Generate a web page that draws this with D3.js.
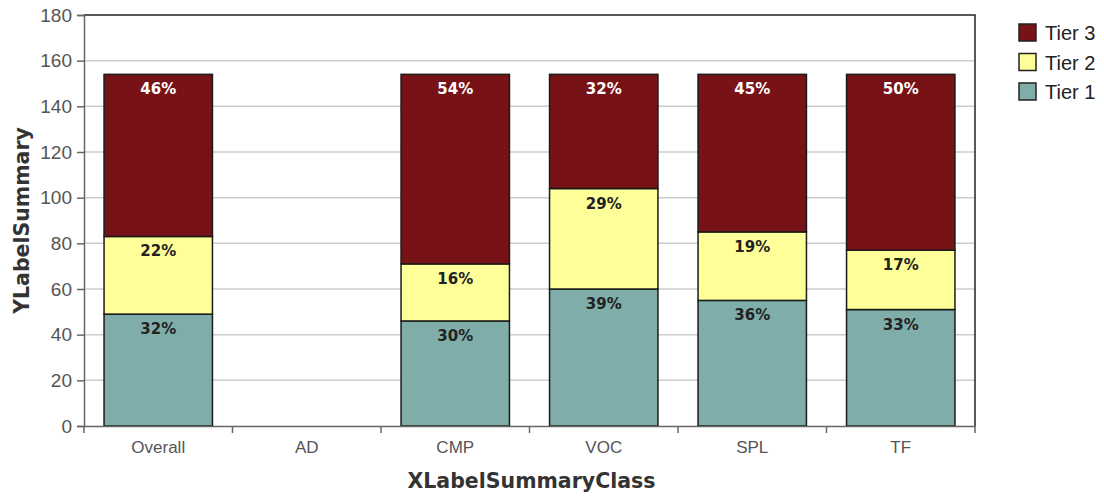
<!DOCTYPE html>
<html>
<head>
<meta charset="utf-8">
<script src="https://cdn.jsdelivr.net/npm/d3@7"></script>
<style>
    body { margin: 0; background: #fff; }
    svg { font-family: "DejaVu Sans", Verdana, sans-serif; }
</style>
</head>
<body>
<div id="chart"></div>
<script>
// chart data
const categories = ["Overall", "AD", "CMP", "VOC", "SPL", "TF"];
const tier1 = [49, 0, 46, 60, 55, 51];
const tier2 = [34, 0, 25, 44, 30, 26];
const tier3 = [71, 0, 83, 50, 69, 77];
const seriesNames = ["Tier 1", "Tier 2", "Tier 3"];
const yTicks = [0, 20, 40, 60, 80, 100, 120, 140, 160, 180];

const colors = { "Tier 1": "#7fada9", "Tier 2": "#ffff99", "Tier 3": "#771316" };
const labelColors = { "Tier 1": "#222222", "Tier 2": "#222222", "Tier 3": "#ffffff" };

const size = { width: 1104, height: 496, left: 84, right: 975, top: 15, bottom: 426 };
const tickFont = "Liberation Sans, Arial, sans-serif";

const rows = categories.map((c, i) => ({ cat: c, "Tier 1": tier1[i], "Tier 2": tier2[i], "Tier 3": tier3[i] }));
const stacked = d3.stack().keys(seriesNames)(rows);

const svg = d3.select("#chart").append("svg")
    .attr("width", size.width)
    .attr("height", size.height);

const xScale = d3.scaleBand()
    .domain(categories)
    .range([size.left, size.right])
    .paddingInner(0.27)
    .paddingOuter(0.135);

const xBand = d3.scaleBand()
    .domain(categories)
    .range([size.left, size.right]);

const yScale = d3.scaleLinear()
    .domain([0, 180])
    .range([size.bottom, size.top]);

// gridlines
svg.append("g")
    .selectAll("line")
    .data(yTicks.filter(t => t > 0 && t < 180))
    .join("line")
    .attr("x1", size.left)
    .attr("x2", size.right)
    .attr("y1", d => yScale(d))
    .attr("y2", d => yScale(d))
    .attr("stroke", "#cccccc")
    .attr("stroke-width", 1.5);

// frame top and right
svg.append("path")
    .attr("d", `M${size.left},${size.top}H${size.right}V${size.bottom}`)
    .attr("fill", "none")
    .attr("stroke", "#222")
    .attr("stroke-width", 1.5);

// bars
const layer = svg.append("g")
    .selectAll("g")
    .data(stacked)
    .join("g")
    .attr("fill", d => colors[d.key]);

layer.selectAll("rect")
    .data(d => d.filter(p => p[1] - p[0] > 0))
    .join("rect")
    .attr("x", d => xScale(d.data.cat))
    .attr("width", xScale.bandwidth())
    .attr("y", d => yScale(d[1]))
    .attr("height", d => yScale(d[0]) - yScale(d[1]))
    .attr("stroke", "#1a1a1a")
    .attr("stroke-width", 1.5);

// percent labels
stacked.forEach(s => {
    svg.append("g")
        .selectAll("text")
        .data(s.filter(p => p[1] - p[0] > 0))
        .join("text")
        .attr("x", d => xScale(d.data.cat) + xScale.bandwidth() / 2)
        .attr("y", d => yScale(d[1]) + 20)
        .attr("text-anchor", "middle")
        .attr("font-size", 15)
        .attr("font-weight", "bold")
        .attr("fill", labelColors[s.key])
        .text(d => {
            const total = d.data["Tier 1"] + d.data["Tier 2"] + d.data["Tier 3"];
            return Math.round((d[1] - d[0]) / total * 100) + "%";
        });
});

// y axis
const yAxis = d3.axisLeft(yScale).tickValues(yTicks).tickSize(7).tickPadding(5);
const yG = svg.append("g")
    .attr("transform", `translate(${size.left},0)`)
    .call(yAxis);
yG.select(".domain").attr("stroke", "#666").attr("stroke-width", 1.5);
yG.selectAll(".tick line").attr("stroke", "#666").attr("stroke-width", 1.5);
yG.selectAll("text").attr("font-size", 19).attr("fill", "#555")
    .attr("font-family", tickFont);

// x axis
const xAxis = d3.axisBottom(xScale).tickSize(0).tickPadding(15);
const xG = svg.append("g")
    .attr("transform", `translate(0,${size.bottom})`)
    .call(xAxis);
xG.select(".domain").attr("stroke", "#666").attr("stroke-width", 1.5);
xG.selectAll("text").attr("font-size", 17).attr("fill", "#555")
    .attr("font-family", tickFont);

// x ticks at band boundaries
svg.append("g")
    .selectAll("line")
    .data(categories.concat(["end"]))
    .join("line")
    .attr("x1", (d, i) => size.left + i * xBand.step())
    .attr("x2", (d, i) => size.left + i * xBand.step())
    .attr("y1", size.bottom)
    .attr("y2", size.bottom + 7)
    .attr("stroke", "#666")
    .attr("stroke-width", 1.5);

// axis titles
svg.append("text")
    .attr("transform", `translate(29,${(size.top + size.bottom) / 2}) rotate(-90)`)
    .attr("text-anchor", "middle")
    .attr("font-size", 20.5)
    .attr("font-weight", "bold")
    .attr("fill", "#333")
    .text("YLabelSummary");

svg.append("text")
    .attr("x", (size.left + size.right) / 2 + 2)
    .attr("y", 488)
    .attr("text-anchor", "middle")
    .attr("font-size", 20.5)
    .attr("font-weight", "bold")
    .attr("fill", "#333")
    .text("XLabelSummaryClass");

// legend
const legend = svg.append("g")
    .attr("transform", "translate(1019,24)")
    .selectAll("g")
    .data(seriesNames.slice().reverse())
    .join("g")
    .attr("transform", (d, i) => `translate(0,${i * 29.5})`);

legend.append("rect")
    .attr("width", 17)
    .attr("height", 17)
    .attr("fill", d => colors[d])
    .attr("stroke", "#222")
    .attr("stroke-width", 1.5);

legend.append("text")
    .attr("x", 26)
    .attr("y", 16)
    .attr("font-size", 20)
    .attr("fill", "#222")
    .attr("font-family", tickFont)
    .text(d => d);
</script>
</body>
</html>
